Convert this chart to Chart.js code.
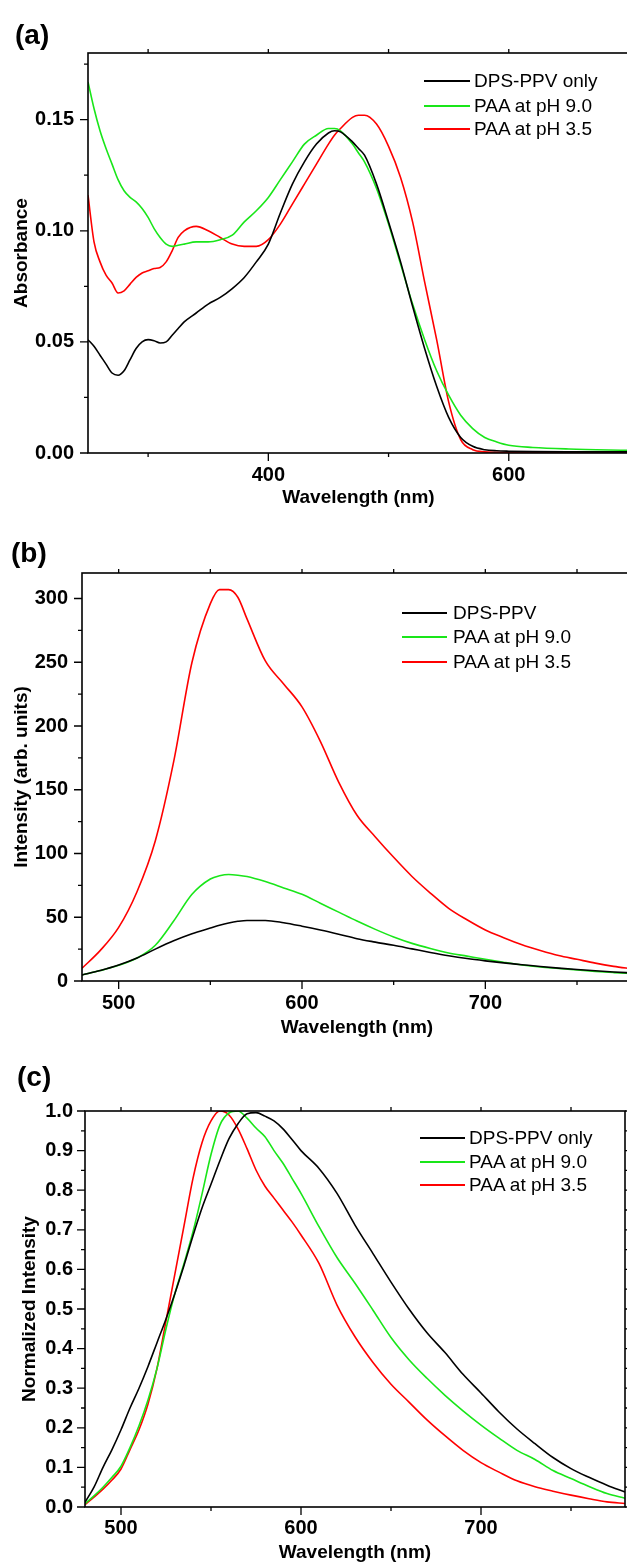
<!DOCTYPE html>
<html>
<head>
<meta charset="utf-8">
<title>DPS-PPV spectra</title>
<script src="https://cdn.jsdelivr.net/npm/chart.js@4.4.1/dist/chart.umd.min.js"></script>
<style>
    html, body { margin: 0; padding: 0; background: #fff; }
    body {
        width: 627px; height: 1566px; overflow: hidden; position: relative;
        font-family: 'Liberation Sans', Arial, sans-serif; color: #000;
    }
    .panel { position: absolute; left: 0; width: 640px; }
    .panel canvas { position: absolute; left: 0; top: 0; }
    .tag { position: absolute; font-weight: bold; font-size: 28px; line-height: 28px; }
    .leg {
        position: absolute; height: 24px; display: flex; align-items: center;
        font-size: 19px; white-space: nowrap;
    }
    .leg i { display: inline-block; height: 2px; }
</style>
</head>
<body>

<div class="panel" style="top:0;height:520px"><canvas id="chartA" width="640" height="520"></canvas></div>
<div class="panel" style="top:520px;height:540px"><canvas id="chartB" width="640" height="540"></canvas></div>
<div class="panel" style="top:1060px;height:506px"><canvas id="chartC" width="640" height="506"></canvas></div>

<div class="tag" style="left:15px;top:21px">(a)</div>
<div class="tag" style="left:11px;top:539px">(b)</div>
<div class="tag" style="left:17px;top:1063px">(c)</div>

<script>
/* DPS-PPV absorbance / PL figure — three stacked panels */

// ── (a) Absorbance ────────────────────────────────────────────────────────
const WL_A = [250, 255, 260, 265, 270, 275, 280, 285, 290, 295, 300, 305, 310, 315, 320, 325, 330,
              340, 350, 360, 370, 380, 390, 400, 410, 420, 430, 440, 450, 455, 460, 470, 475, 480,
              490, 500, 510, 520, 530, 540, 550, 560, 570, 580, 590, 600, 620, 650, 700];
const ABS_DPS  = [.051, .048, .044, .040, .036, .035, .037, .042, .047, .050, .051, .0505, .0495, .050, .053, .056, .059,
                  .063, .067, .070, .074, .079, .086, .094, .108, .121, .131, .139, .144, .145, .1445, .140, .137, .134,
                  .121, .104, .086, .066, .047, .030, .016, .007, .003, .0015, .001, .0008, .0006, .0005, .0005];
const ABS_PH9  = [.167, .155, .145, .137, .130, .123, .118, .115, .113, .110, .106, .101, .097, .094, .093, .0935, .094,
                  .095, .095, .096, .098, .104, .109, .115, .123, .131, .139, .143, .146, .146, .145, .139, .135, .131,
                  .119, .103, .085, .067, .051, .037, .026, .017, .011, .007, .005, .0035, .0025, .0018, .0012];
const ABS_PH35 = [.116, .095, .086, .080, .0765, .072, .073, .076, .079, .081, .082, .083, .0835, .086, .091, .097, .100,
                  .102, .100, .097, .094, .093, .093, .096, .103, .112, .121, .130, .139, .143, .146, .151, .152, .152,
                  .148, .138, .124, .104, .077, .051, .023, .006, .0015, .0005, .0003, .0002, .0002, .0002, .0002];
const X_TICKS_A = [400, 600];
const Y_TICKS_A = [0, 0.05, 0.10, 0.15];
const LABELS_A  = ['DPS-PPV only', 'PAA at pH 9.0', 'PAA at pH 3.5'];

// ── (b) PL intensity ──────────────────────────────────────────────────────
const WL_B = [480, 490, 500, 510, 520, 530, 540, 550, 555, 560, 565, 570, 580, 590, 600, 610, 620,
              630, 640, 650, 660, 670, 680, 690, 700, 710, 720, 730, 740, 750, 760, 770, 780];
const PL_DPS  = [4.7, 8.2, 12.5, 18, 25, 31.5, 37, 41.5, 43.7, 45.5, 46.8, 47.5, 47.5, 45.7, 43, 40, 36.7,
                 33.2, 30.5, 28, 25.2, 22.4, 19.8, 17.6, 15.8, 14.2, 12.8, 11.4, 10.1, 9, 8, 7.1, 6.3];
const PL_PH9  = [4.7, 8.2, 12.3, 18, 28, 47, 68, 80, 82.5, 83.5, 83, 82, 78, 73, 68, 61, 54,
                 47, 40.5, 34.5, 29.5, 25.5, 22, 19.5, 17, 14.7, 12.6, 11, 9.8, 8.6, 7.5, 6.6, 5.8];
const PL_PH35 = [10, 24, 42, 70, 110, 172, 250, 296, 307, 307, 301, 284, 251, 233, 215, 188, 156,
                 130, 113, 97, 82, 69, 57, 48, 40, 34, 28.5, 24, 20, 17, 14, 11.5, 9.5];
const X_TICKS_B = [500, 600, 700];
const Y_TICKS_B = [0, 50, 100, 150, 200, 250, 300];
const LABELS_B  = ['DPS-PPV', 'PAA at pH 9.0', 'PAA at pH 3.5'];

// ── (c) Normalized PL ─────────────────────────────────────────────────────
const WL_C = [480, 485, 490, 495, 500, 505, 510, 515, 520, 525, 530, 535, 540, 545, 550, 555, 560, 565,
              570, 575, 580, 585, 590, 595, 600, 610, 620, 630, 640, 650, 660, 670, 680, 690, 700,
              710, 720, 730, 740, 750, 760, 770, 780];
const NORM_DPS  = [.012, .05, .1, .145, .195, .25, .3, .355, .415, .475, .54, .61, .685, .755, .815, .875, .93, .968,
                   .993, .996, .987, .975, .955, .928, .9, .855, .792, .712, .64, .568, .5, .44, .39, .335, .288,
                   .24, .197, .16, .125, .097, .075, .055, .038];
const NORM_PH9  = [.008, .028, .05, .075, .103, .15, .205, .27, .35, .45, .54, .615, .695, .79, .89, .965, .995, 1.0,
                   .982, .957, .935, .9, .868, .83, .792, .708, .63, .565, .497, .428, .372, .325, .282, .243, .207,
                   .174, .143, .12, .092, .072, .052, .034, .022];
const NORM_PH35 = [.006, .025, .045, .068, .096, .145, .195, .26, .35, .47, .59, .71, .83, .92, .975, 1.0, .99, .955,
                   .905, .851, .81, .78, .75, .72, .687, .615, .51, .43, .365, .31, .265, .22, .18, .143, .112,
                   .088, .066, .051, .04, .03, .021, .013, .009];
const X_TICKS_C = [500, 600, 700];
const Y_TICKS_C = [0, .1, .2, .3, .4, .5, .6, .7, .8, .9, 1.0];
const LABELS_C  = ['DPS-PPV only', 'PAA at pH 9.0', 'PAA at pH 3.5'];

// ── Theme ─────────────────────────────────────────────────────────────────
const COLORS    = ['#000000', '#19e619', '#ff0000'];
const FAMILY    = "'Liberation Sans', Arial, sans-serif";
const TICK_FONT = { family: FAMILY, size: 20, weight: 'bold' };
const AXIS_FONT = { family: FAMILY, size: 19, weight: 'bold' };
const CANVAS_W  = 640;

Chart.defaults.font.family = FAMILY;
Chart.defaults.color = '#000';

// Box frame with Origin-style major/minor ticks, mirrored on top (and right)
function walk(min, max, step, major, fn) {
    const start = Math.ceil(min / step - 1e-9);
    for (let i = start; i * step <= max + 1e-9; i++) {
        const v = i * step, r = v / major;
        fn(v, Math.abs(r - Math.round(r)) < 1e-6);
    }
}

const framePlugin = {
    id: 'frame',
    afterDraw(chart, args, o) {
        const { ctx, chartArea: a, scales: { x, y } } = chart;
        ctx.save();
        ctx.strokeStyle = '#000';
        ctx.lineWidth = 1.6;
        ctx.strokeRect(a.left, a.top, a.right - a.left, a.bottom - a.top);
        ctx.lineWidth = 1.3;
        ctx.beginPath();
        walk(x.min, x.max, o.xMinor, o.xMajor, (v, major) => {
            const px = x.getPixelForValue(v);
            ctx.moveTo(px, a.bottom); ctx.lineTo(px, a.bottom + (major ? 8 : 4));
            ctx.moveTo(px, a.top);    ctx.lineTo(px, a.top - 4);
        });
        walk(y.min, y.max, o.yMinor, o.yMajor, (v, major) => {
            const py = y.getPixelForValue(v);
            ctx.moveTo(a.left, py); ctx.lineTo(a.left - (major ? 8 : 4), py);
            if (o.right) { ctx.moveTo(a.right, py); ctx.lineTo(a.right + 4, py); }
        });
        ctx.stroke();
        ctx.restore();
    }
};

function makeLegend(labels, pos) {
    labels.forEach((text, i) => {
        const row = document.createElement('div');
        row.className = 'leg';
        row.style.left = pos.x + 'px';
        row.style.top = (pos.rows[i] - 12) + 'px';
        const sw = document.createElement('i');
        sw.style.width = pos.line + 'px';
        sw.style.marginRight = pos.gap + 'px';
        sw.style.background = COLORS[i];
        row.appendChild(sw);
        row.appendChild(document.createTextNode(text));
        document.body.appendChild(row);
    });
}

function makePanel(p) {
    const el = document.getElementById(p.id);
    new Chart(el, {
        type: 'line',
        data: {
            datasets: p.series.map((vals, i) => ({
                label: p.labels[i],
                data: p.wl.map((w, k) => ({ x: w, y: vals[k] })),
                borderColor: COLORS[i],
                borderWidth: 1.6,
                pointRadius: 0,
                fill: false,
                cubicInterpolationMode: 'monotone'
            }))
        },
        options: {
            responsive: false,
            animation: false,
            layout: { padding: { top: p.box.t, right: CANVAS_W - p.box.r, left: 0, bottom: 0 } },
            plugins: {
                legend: { display: false },
                tooltip: { enabled: false },
                frame: p.frame
            },
            scales: {
                x: {
                    type: 'linear', min: p.xMin, max: p.xMax,
                    afterBuildTicks: s => { s.ticks = p.xTicks.map(v => ({ value: v })); },
                    afterFit: s => { s.height = p.h - p.box.b; },
                    ticks: { font: TICK_FONT, color: '#000', padding: p.xPad, autoSkip: false, maxRotation: 0 },
                    grid: { display: false, drawTicks: false },
                    border: { display: false },
                    title: { display: true, text: 'Wavelength (nm)', font: AXIS_FONT, color: '#000',
                             padding: { top: 0, bottom: p.xTitlePad } }
                },
                y: {
                    type: 'linear', min: p.yMin, max: p.yMax,
                    afterBuildTicks: s => { s.ticks = p.yTicks.map(v => ({ value: v })); },
                    afterFit: s => { s.width = p.box.l; },
                    ticks: { font: TICK_FONT, color: '#000', padding: p.yPad, autoSkip: false,
                             callback: v => Number(v).toFixed(p.yDigits) },
                    grid: { display: false, drawTicks: false },
                    border: { display: false },
                    title: { display: true, text: p.yTitle, font: AXIS_FONT, color: '#000',
                             padding: { top: p.yTitlePad, bottom: 0 } }
                }
            }
        },
        plugins: [framePlugin]
    });
}

makePanel({
    id: 'chartA', h: 520, box: { l: 88, t: 53, r: 629, b: 453 },
    wl: WL_A, series: [ABS_DPS, ABS_PH9, ABS_PH35], labels: LABELS_A,
    xMin: 250, xMax: 700, xTicks: X_TICKS_A, xPad: 10, xTitlePad: 10.6,
    yMin: 0, yMax: 0.18, yTicks: Y_TICKS_A, yPad: 14, yDigits: 2,
    yTitle: 'Absorbance', yTitlePad: 10.6,
    frame: { xMinor: 100, xMajor: 200, yMinor: 0.025, yMajor: 0.05, right: false }
});

makePanel({
    id: 'chartB', h: 540, box: { l: 82, t: 53, r: 632, b: 461 },
    wl: WL_B, series: [PL_DPS, PL_PH9, PL_PH35], labels: LABELS_B,
    xMin: 480, xMax: 780, xTicks: X_TICKS_B, xPad: 10, xTitlePad: 20.6,
    yMin: 0, yMax: 320, yTicks: Y_TICKS_B, yPad: 14, yDigits: 0,
    yTitle: 'Intensity (arb. units)', yTitlePad: 10.6,
    frame: { xMinor: 50, xMajor: 100, yMinor: 25, yMajor: 50, right: false }
});

makePanel({
    id: 'chartC', h: 506, box: { l: 85, t: 51, r: 625, b: 447 },
    wl: WL_C, series: [NORM_DPS, NORM_PH9, NORM_PH35], labels: LABELS_C,
    xMin: 480, xMax: 780, xTicks: X_TICKS_C, xPad: 9, xTitlePad: 1.6,
    yMin: 0, yMax: 1, yTicks: Y_TICKS_C, yPad: 12, yDigits: 1,
    yTitle: 'Normalized Intensity', yTitlePad: 18.6,
    frame: { xMinor: 50, xMajor: 100, yMinor: 0.05, yMajor: 0.1, right: true }
});

makeLegend(LABELS_A, { x: 424, line: 46, gap: 4, rows: [81, 106, 129.3] });
makeLegend(LABELS_B, { x: 402, line: 45, gap: 6, rows: [612.7, 637.3, 661.7] });
makeLegend(LABELS_C, { x: 420, line: 45, gap: 4, rows: [1137.7, 1162.3, 1185] });
</script>
</body>
</html>
